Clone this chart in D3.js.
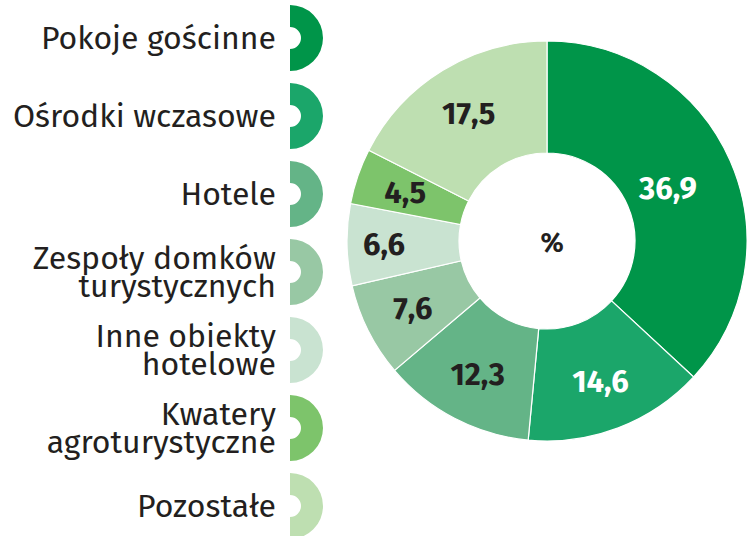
<!DOCTYPE html>
<html>
<head>
<meta charset="utf-8">
<script src="https://cdn.jsdelivr.net/npm/d3@7"></script>
<style>
  body { margin: 0; background: #fff; }
  svg { display: block; }
</style>
</head>
<body>
<div id="chart"></div>
<script>
// data, clockwise from 12 o'clock
var categories = ["Pokoje gościnne", "Ośrodki wczasowe", "Hotele", "Zespoły domków turystycznych",
  "Inne obiekty hotelowe", "Kwatery agroturystyczne", "Pozostałe"];
var legendLines = [["Pokoje gościnne"], ["Ośrodki wczasowe"], ["Hotele"], ["Zespoły domków", "turystycznych"],
  ["Inne obiekty", "hotelowe"], ["Kwatery", "agroturystyczne"], ["Pozostałe"]];
var shares = [36.9, 14.6, 12.3, 7.6, 6.6, 4.5, 17.5];
var colors = ["#009549", "#1ba66a", "#64b487", "#98c8a4", "#c9e3d1", "#7dc46b", "#bedfb1"];
var labelColors = ["#ffffff", "#ffffff", "#231f20", "#231f20", "#231f20", "#231f20", "#231f20"];

var width = 752, height = 536;
var cx = 547, cy = 241, outerR = 200, innerR = 88;

var svg = d3.select("#chart").append("svg")
  .attr("width", width)
  .attr("height", height);

var data = categories.map(function(c, i) { return {name: c, value: shares[i], i: i}; });

var pie = d3.pie().sort(null).value(function(d) { return d.value; });
var arcs = pie(data);

var arc = d3.arc().innerRadius(innerR).outerRadius(outerR);

var donut = svg.append("g").attr("transform", "translate(" + cx + "," + cy + ")");

donut.selectAll("path")
  .data(arcs)
  .enter()
  .append("path")
    .attr("d", arc)
    .attr("fill", function(d) { return colors[d.data.i]; })
    .attr("stroke", "#fff")
    .attr("stroke-width", 1.2);

// labels mostly sit at r=150, a couple are nudged like in the original
var labelR = function(d) {
  if (d.data.i === 0) return 132;
  if (d.data.i === 4) return 163;
  return 150;
};

donut.selectAll("text.val")
  .data(arcs)
  .enter()
  .append("text")
    .attr("class", "val")
    .attr("transform", function(d) {
      var r = labelR(d);
      var c = d3.arc().innerRadius(r).outerRadius(r).centroid(d);
      return "translate(" + c[0] + "," + c[1] + ")";
    })
    .attr("text-anchor", "middle")
    .attr("dy", "0.35em")
    .style("font-family", "'Fira Sans', 'Open Sans', sans-serif")
    .style("font-weight", 700)
    .style("font-size", "31px")
    .style("fill", function(d) { return labelColors[d.data.i]; })
    .text(function(d) { return d3.format(".1f")(d.data.value).replace(".", ","); });

donut.append("text")
  .attr("x", 5)
  .attr("y", 2)
  .attr("dy", "0.35em")
  .attr("text-anchor", "middle")
  .style("font-family", "'Fira Sans', 'Open Sans', sans-serif")
  .style("font-weight", 700)
  .style("font-size", "27px")
  .style("fill", "#231f20")
  .text("%");

// legend: half rings on the right, names right-aligned beside them
var legY = d3.scalePoint().domain(d3.range(categories.length)).range([38, 506]);
var halfRing = d3.arc().innerRadius(11).outerRadius(33).startAngle(0).endAngle(Math.PI);

var leg = svg.selectAll("g.leg")
  .data(data)
  .enter()
  .append("g")
    .attr("class", "leg")
    .attr("transform", function(d) { return "translate(290," + legY(d.i) + ")"; });

leg.append("path")
  .attr("d", halfRing)
  .attr("fill", function(d) { return colors[d.i]; });

leg.each(function(d) {
  var lines = legendLines[d.i];
  var lh = 28.5;
  var t = d3.select(this).append("text")
    .attr("text-anchor", "end")
    .style("font-family", "'Fira Sans', 'Open Sans', sans-serif")
    .style("font-size", "32px")
    .style("fill", "#231f20");
  lines.forEach(function(l, k) {
    t.append("tspan")
      .attr("x", -14)
      .attr("y", (k - (lines.length - 1) / 2) * lh)
      .attr("dy", "0.35em")
      .text(l);
  });
});
</script>
</body>
</html>
